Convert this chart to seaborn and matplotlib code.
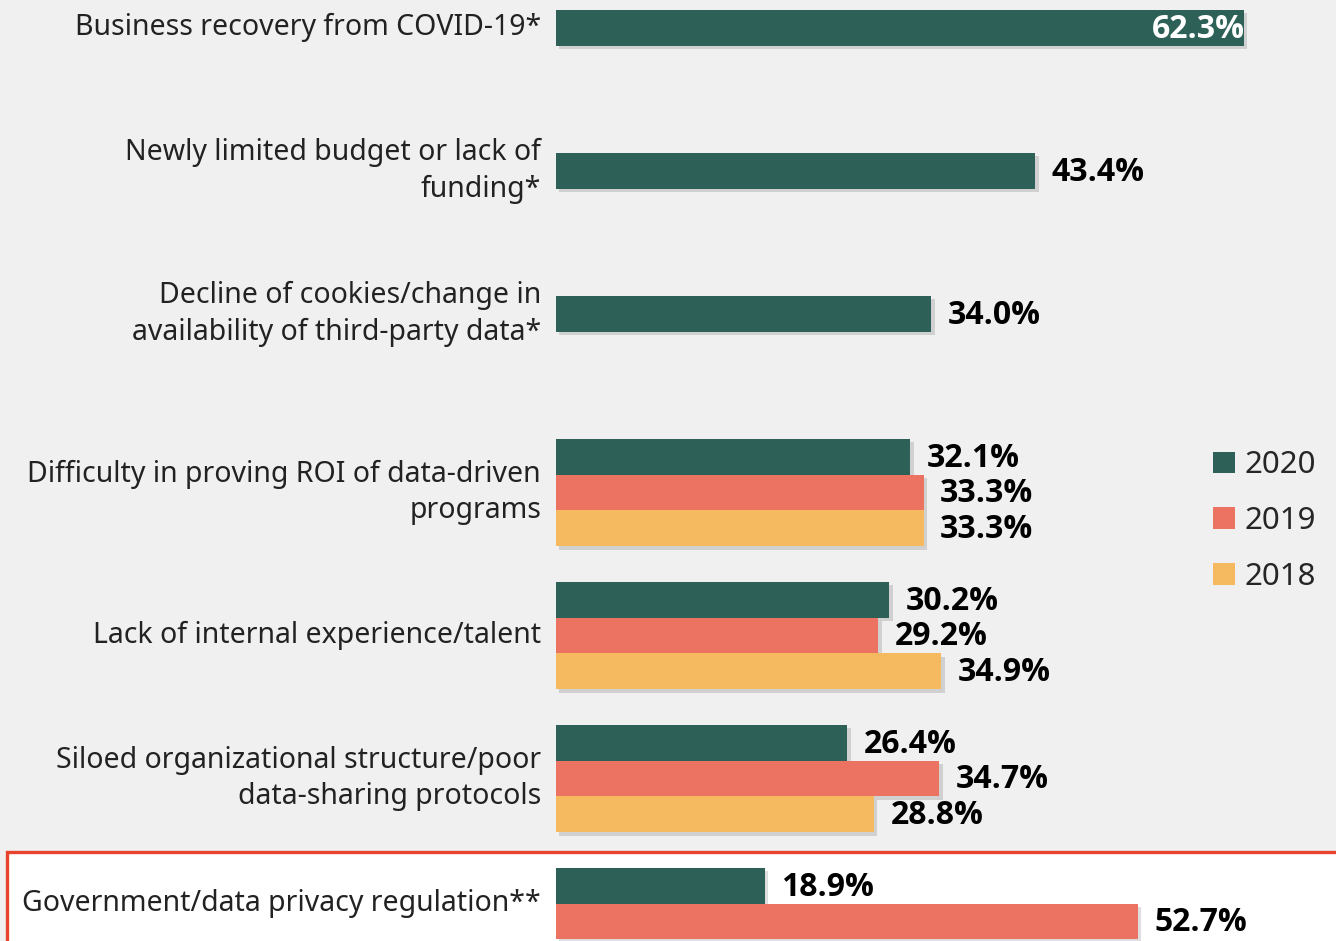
import numpy as np
import pandas as pd
import matplotlib
matplotlib.use("Agg")
import matplotlib.pyplot as plt
import matplotlib.patheffects as pe
from matplotlib.patches import Rectangle
import seaborn as sns

# chart data
categories = [
    "Business recovery from COVID-19*",
    "Newly limited budget or lack of\nfunding*",
    "Decline of cookies/change in\navailability of third-party data*",
    "Difficulty in proving ROI of data-driven\nprograms",
    "Lack of internal experience/talent",
    "Siloed organizational structure/poor\ndata-sharing protocols",
    "Government/data privacy regulation**",
]
years = ["2020", "2019", "2018"]
v2020 = [62.3, 43.4, 34.0, 32.1, 30.2, 26.4, 18.9]
v2019 = [np.nan, np.nan, np.nan, 33.3, 29.2, 34.7, 52.7]
v2018 = [np.nan, np.nan, np.nan, 33.3, 34.9, 28.8, np.nan]
colors = ["#2d6158", "#ec7262", "#f5b960"]

rows = []
for yr, vals in zip(years, [v2020, v2019, v2018]):
    for cat, v in zip(categories, vals):
        rows.append({"category": cat, "year": yr, "value": v})
df = pd.DataFrame(rows).dropna()

sns.set_style("white")
plt.rcParams["font.family"] = ["Noto Sans", "DejaVu Sans"]
bold_family = ["Open Sans", "Roboto", "DejaVu Sans"]

W, H = 1336, 941
fig = plt.figure(figsize=(W / 100, H / 100), dpi=100, facecolor="#f0f0f0")

# highlighted box behind the last row
box_top = 852
fig.add_artist(Rectangle((7 / W, -0.1), 1.2, 0.1 + (H - box_top) / H,
                         transform=fig.transFigure, facecolor="white",
                         edgecolor="#e8432c", linewidth=2.4, zorder=-1))

ax_left = 556 / W
ax = fig.add_axes([ax_left, 0, 1 - ax_left, 1])
ax.set_facecolor("none")

sns.barplot(data=df, y="category", x="value", hue="year", order=categories,
            hue_order=years, palette=colors, orient="h", width=0.75,
            saturation=1, errorbar=None, linewidth=0, ax=ax)

handles, labels = ax.get_legend_handles_labels()
if ax.get_legend() is not None:
    ax.get_legend().remove()

ax.set_xlim(0, (W - 556) / 11.04)
ax.set_ylim(6.136, -0.444)
ax.set_xlabel("")
ax.set_ylabel("")
ax.set_xticks([])
ax.set_yticks([])
sns.despine(ax=ax, left=True, bottom=True)

shadow = [pe.SimplePatchShadow(offset=(2.5, -2.5), shadow_rgbFace="k", alpha=0.13), pe.Normal()]
for cont in ax.containers:
    for bar in cont:
        bar.set_edgecolor("none")
        bar.set_path_effects(shadow)
        w = bar.get_width()
        yc = bar.get_y() + bar.get_height() / 2
        if w > 60:
            ax.text(w + 0.1, yc + 0.01, f"{w:.1f}%", ha="right", va="center",
                    color="white", fontsize=23, fontweight="bold", family=bold_family)
        else:
            ax.text(w + 1.5, yc + 0.01, f"{w:.1f}%", ha="left", va="center",
                    color="black", fontsize=23, fontweight="bold", family=bold_family)

# category labels, centred on the bars that exist in each row
offsets = {"2020": -0.25, "2019": 0.0, "2018": 0.25}
for i, cat in enumerate(categories):
    present = df.loc[df["category"] == cat, "year"]
    yc = i + np.mean([offsets[y] for y in present])
    ax.text(-15 / (W - 556), yc, cat, transform=ax.get_yaxis_transform(),
            ha="right", va="center", fontsize=20.5, color="#222222",
            linespacing=1.35)

fig.legend(handles, labels, loc="center left",
           bbox_to_anchor=(1185 / W, 1 - 521 / H), frameon=False,
           fontsize=22.5, handlelength=0.7, handleheight=0.7,
           handletextpad=0.3, labelspacing=0.82)

fig.savefig("out.png", dpi=100, facecolor=fig.get_facecolor())
